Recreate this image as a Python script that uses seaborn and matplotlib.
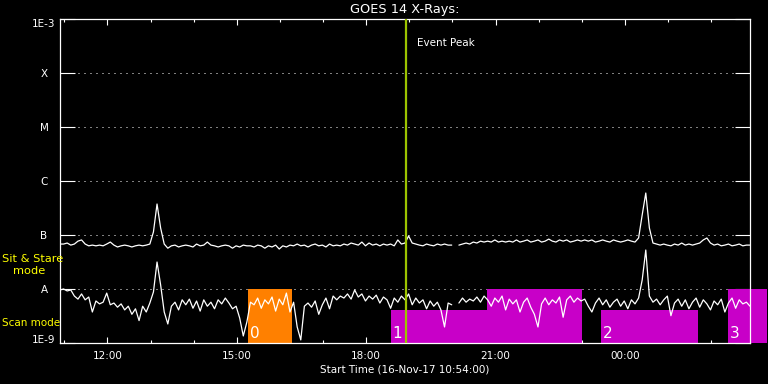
import numpy as np
import pandas as pd
import matplotlib
matplotlib.use("Agg")
import matplotlib.pyplot as plt
import matplotlib.dates as mdates
from matplotlib.ticker import NullLocator
import seaborn as sns

sns.set_theme(style="ticks", rc={
    "figure.facecolor": "black", "axes.facecolor": "black", "savefig.facecolor": "black",
    "axes.edgecolor": "white", "text.color": "white", "axes.labelcolor": "white",
    "xtick.color": "white", "ytick.color": "white",
})
plt.rcParams['font.family'] = ['DejaVu Sans']

start = pd.Timestamp("2017-11-16 10:54:00")
end = pd.Timestamp("2017-11-17 02:54:00")

# 1-8 A channel, 5 minute samples, units of 1e-8 W/m^2
long_flux = [
    6.8, 6.8, 7.1, 6.5, 6.8, 7.7, 8.1, 6.8, 6.3, 6.5,
    6.3, 6.5, 6.3, 6.8, 7.4, 6.5, 6.0, 6.3, 6.5, 6.3,
    6.0, 6.3, 6.5, 6.3, 6.5, 6.8, 11.4, 37.5, 13.5, 6.8,
    5.7, 6.3, 6.5, 6.0, 6.3, 6.5, 6.3, 6.0, 6.8, 6.3,
    6.5, 7.4, 6.5, 6.3, 6.0, 6.3, 6.5, 6.3, 5.7, 6.3,
    6.0, 6.5, 6.3, 6.3, 6.0, 6.5, 6.3, 5.7, 6.3, 6.0,
    6.5, 5.5, 6.3, 6.0, 6.5, 6.3, 6.8, 6.3, 6.5, 6.0,
    6.5, 6.8, 6.3, 6.5, 6.0, 6.8, 6.3, 6.5, 6.3, 6.8,
    6.5, 7.1, 6.8, 6.5, 7.4, 6.3, 7.1, 6.5, 6.8, 6.3,
    6.8, 6.5, 6.8, 6.3, 8.1, 6.8, 7.1, 9.6, 7.1, 6.8,
    6.5, 6.3, 6.8, 6.5, 6.3, 6.8, 6.5, 6.8, 6.5, 6.5,
    np.nan, 6.5, 6.8, 7.1, 6.8, 7.4, 7.1, 7.7, 7.4, 7.7,
    7.4, 8.1, 7.4, 7.7, 7.4, 7.7, 7.4, 8.1, 7.4, 7.7,
    8.1, 7.4, 7.7, 8.1, 7.4, 7.7, 8.4, 7.7, 7.4, 8.1,
    7.7, 8.1, 7.4, 7.7, 8.1, 7.7, 8.1, 7.7, 8.1, 7.4,
    7.7, 8.1, 7.7, 7.4, 8.1, 7.7, 7.4, 7.7, 8.1, 7.7,
    7.4, 8.8, 23.5, 59.9, 13.5, 7.1, 6.8, 6.5, 6.8, 6.5,
    6.3, 6.8, 6.5, 7.1, 6.5, 6.8, 6.5, 6.8, 7.1, 8.1,
    8.8, 7.1, 6.5, 6.8, 6.3, 6.5, 6.8, 6.3, 6.5, 6.8,
    6.3, 6.5, 6.5,
]

# 0.5-4 A channel, 5 minute samples, units of 1e-9 W/m^2
short_flux = [
    9.6, 10.0, 9.2, 9.6, 7.4, 6.5, 8.1, 6.3, 7.1, 3.75,
    6.0, 5.3, 5.7, 8.4, 5.1, 5.5, 4.6, 5.3, 4.1, 4.8,
    3.4, 4.3, 2.6, 4.8, 3.75, 5.5, 8.8, 31.6, 11.9, 3.75,
    2.25, 4.8, 5.7, 4.1, 6.3, 5.1, 6.5, 4.4, 6.0, 3.9,
    6.3, 4.8, 5.7, 4.3, 6.3, 5.3, 6.8, 5.5, 4.3, 4.8,
    2.9, 1.35, 2.45, 5.7, 5.1, 6.8, 4.4, 6.3, 5.3, 7.1,
    3.9, 6.5, 5.1, 8.4, 3.75, 5.7, 1.98, 1.14, 4.8, 5.5,
    4.6, 6.0, 3.4, 5.1, 6.8, 4.3, 7.4, 6.3, 7.4, 6.8,
    8.1, 6.5, 9.6, 7.1, 8.1, 6.0, 7.4, 6.5, 7.7, 5.5,
    7.1, 6.3, 4.4, 6.8, 5.7, 7.4, 6.3, 8.1, 5.1, 6.8,
    5.5, 6.3, 4.3, 6.0, 4.8, 5.7, 4.1, 1.98, 5.5, 5.1,
    np.nan, 5.5, 6.8, 5.7, 6.5, 6.0, 7.1, 5.7, 7.4, 6.3,
    4.8, 6.8, 5.7, 7.4, 4.1, 6.5, 5.3, 6.3, 3.75, 5.7,
    6.8, 4.6, 3.4, 1.98, 5.3, 6.8, 5.1, 6.3, 5.5, 7.1,
    3.0, 6.3, 7.4, 5.7, 6.8, 6.0, 6.5, 4.8, 3.75, 5.5,
    6.8, 5.1, 6.3, 4.6, 5.7, 6.5, 4.8, 6.0, 4.3, 6.3,
    5.3, 6.8, 14.7, 52.7, 7.4, 5.7, 6.5, 5.1, 6.3, 7.4,
    3.2, 5.5, 6.5, 4.8, 6.3, 4.3, 5.7, 6.8, 4.6, 6.3,
    5.3, 4.1, 6.0, 5.1, 6.5, 3.75, 5.5, 6.8, 4.4, 6.3,
    5.3, 5.7, 4.8,
]

level_names = ["1E-9", "A", "B", "C", "M", "X", "1E-3"]
level_values = [1e-9, 1e-8, 1e-7, 1e-6, 1e-5, 1e-4, 1e-3]

event_peak = pd.Timestamp("2017-11-16 18:55")

# IRIS raster blocks
raster_labels = ["0", "1", "", "2", "3"]
raster_start = ["2017-11-16 15:16", "2017-11-16 18:34", "2017-11-16 20:48",
                "2017-11-16 23:27", "2017-11-17 02:23"]
raster_end = ["2017-11-16 16:17", "2017-11-16 20:48", "2017-11-16 23:00",
              "2017-11-17 01:41", "2017-11-17 03:18"]
raster_top = [1e-8, 4.1e-9, 1e-8, 4.1e-9, 1e-8]
raster_color = ["#ff8000", "#c800c8", "#c800c8", "#c800c8", "#c800c8"]


def channel_frame(values, scale):
    flux = np.array(values, dtype=float) * scale
    d = pd.DataFrame({
        "time": pd.date_range(start, periods=len(flux), freq="5min"),
        "flux": flux,
    })
    d["seg"] = d["flux"].isna().cumsum()
    return d


df_long = channel_frame(long_flux, 1e-8)
df_short = channel_frame(short_flux, 1e-9)

fig = plt.figure(figsize=(7.68, 3.84), dpi=100)
ax = fig.add_axes([60 / 768, 1 - 343 / 384, 690 / 768, 324 / 384])

sns.lineplot(data=df_long, x="time", y="flux", units="seg", estimator=None,
             color="white", lw=0.9, ax=ax, zorder=3)
sns.lineplot(data=df_short, x="time", y="flux", units="seg", estimator=None,
             color="white", lw=0.9, ax=ax, zorder=3)

for s, e, top, c, lab in zip(raster_start, raster_end, raster_top, raster_color, raster_labels):
    s = mdates.date2num(pd.Timestamp(s))
    e = mdates.date2num(pd.Timestamp(e))
    ax.fill_between([s, e], 1e-9, top, color=c, lw=0, zorder=1, clip_on=False)
    if lab:
        ax.annotate(lab, (s, 1e-9), xytext=(1.2, 3.6), textcoords="offset points",
                    ha="left", va="baseline", color="white", fontsize=11, zorder=5)

ev = mdates.date2num(event_peak)
ax.axvline(ev, color="#9cc400", lw=1.6, zorder=4)
ax.annotate("Event Peak", (ev, 0.926), xycoords=ax.get_xaxis_transform(),
            xytext=(8.4, 0), textcoords="offset points", ha="left", va="center",
            color="white", fontsize=7.5)

ax.set_yscale("log")
ax.set_ylim(1e-9, 1e-3)
ax.set_xlim(mdates.date2num(start), mdates.date2num(end))
ax.set_yticks(level_values)
ax.set_yticklabels(level_names)
ax.yaxis.set_minor_locator(NullLocator())
for lab in ax.get_yticklabels():
    lab.set_ha("center")
    if lab.get_text() == "1E-3":
        lab.set_va("top")
    elif lab.get_text() == "1E-9":
        lab.set_va("baseline")

ax.xaxis.set_major_locator(mdates.HourLocator(byhour=range(0, 24, 3)))
ax.xaxis.set_minor_locator(mdates.HourLocator())
ax.xaxis.set_major_formatter(mdates.DateFormatter("%H:%M"))

ax.tick_params(axis="y", which="major", direction="in", length=10.5, width=0.8,
               left=True, right=True, pad=11.5, labelsize=7.5)
ax.tick_params(axis="x", which="major", direction="in", length=4.3, width=0.8,
               top=True, bottom=True, pad=5.5, labelsize=7.5)
ax.tick_params(axis="x", which="minor", direction="in", length=2.2, width=0.8,
               top=True, bottom=True)

ax.yaxis.grid(True, color="white", linestyle=(0, (1, 5)), linewidth=0.72, zorder=2)
ax.xaxis.grid(False)
for sp in ax.spines.values():
    sp.set_color("white")
    sp.set_linewidth(0.9)

ax.set_title("GOES 14 X-Rays:", color="white", fontsize=9.3, pad=4)
ax.set_xlabel("Start Time (16-Nov-17 10:54:00)", fontsize=7.5, labelpad=3)
ax.set_ylabel("")

fig.text(2 / 768, 1 - 258.5 / 384, "Sit & Stare", color="#ffff00", fontsize=8.2,
         ha="left", va="center")
fig.text(13 / 768, 1 - 271 / 384, "mode", color="#ffff00", fontsize=8.2,
         ha="left", va="center")
fig.text(2 / 768, 1 - 323.5 / 384, "Scan mode", color="#ffff00", fontsize=7.5,
         ha="left", va="center")

fig.savefig("out.png", dpi=100, facecolor="black")
